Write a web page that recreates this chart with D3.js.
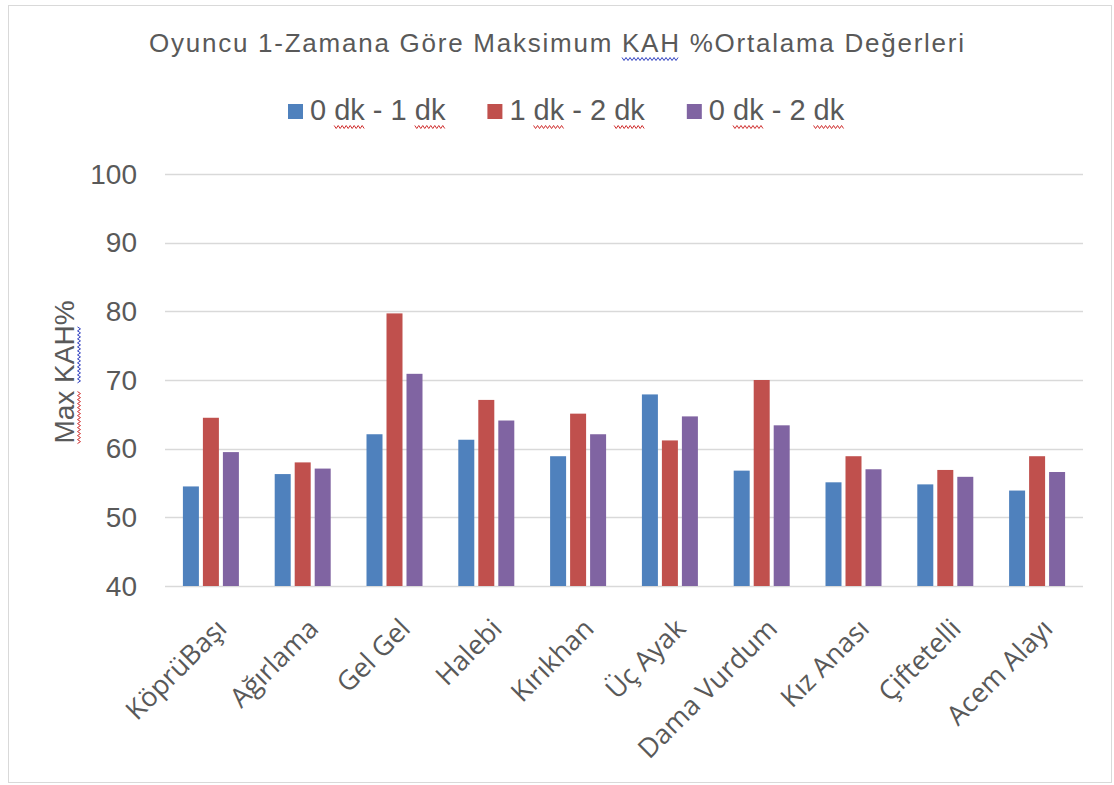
<!DOCTYPE html>
<html>
<head>
<meta charset="utf-8">
<script src="https://cdn.jsdelivr.net/npm/d3@7"></script>
<style>
  html, body { margin: 0; padding: 0; background: #fff; }
  svg { display: block; }
</style>
</head>
<body>
<div id="chart"></div>
<script>
// values
const categories = ['KöprüBaşı', 'Ağırlama', 'Gel Gel', 'Halebi', 'Kırıkhan',
  'Üç Ayak', 'Dama Vurdum', 'Kız Anası', 'Çiftetelli', 'Acem Alayı'];
const seriesNames = ['0 dk - 1 dk', '1 dk - 2 dk', '0 dk - 2 dk'];
const min0to1 = [54.5, 56.3, 62.1, 61.3, 58.9, 67.9, 56.8, 55.1, 54.8, 53.9];
const min1to2 = [64.5, 58.0, 79.7, 67.1, 65.1, 61.2, 70.0, 58.9, 56.9, 58.9];
const min0to2 = [59.5, 57.1, 70.9, 64.1, 62.1, 64.7, 63.4, 57.0, 55.9, 56.6];
const yTicks = [40, 50, 60, 70, 80, 90, 100];
const colors = ['#4f81bd', '#c0504d', '#8064a2'];

const seriesValues = [min0to1, min1to2, min0to2];
const rows = categories.map((c, i) => ({
  cat: c,
  vals: seriesNames.map((s, j) => ({key: s, j, v: seriesValues[j][i]})),
}));

const W = 1114, H = 785;
const plot = {left: 165, right: 1083, top: 174, bottom: 586};
const textCol = '#595959';
const gridCol = '#d9d9d9';

const svg = d3.select('#chart').append('svg')
  .attr('width', W).attr('height', H);

// chart frame
svg.append('rect')
  .attr('x', 8.5).attr('y', 5.5)
  .attr('width', 1103).attr('height', 777)
  .attr('fill', '#fff').attr('stroke', gridCol);

const x0 = d3.scaleBand().domain(categories)
  .range([plot.left, plot.right])
  .paddingInner(0.39).paddingOuter(0.195);
const x1 = d3.scaleBand().domain(seriesNames)
  .range([0, x0.bandwidth()])
  .paddingInner(0.2).paddingOuter(0);
const y = d3.scaleLinear().domain([40, 100]).range([plot.bottom, plot.top]);

// squiggly spell-check underline
const squiggle = (g, xa, xb, yy, col) => {
  const pts = [];
  for (let xx = xa, k = 0; xx <= xb; xx += 2, k++) pts.push([xx, yy + (k % 2 ? 1.5 : -1.5)]);
  g.append('path').attr('d', d3.line()(pts))
    .attr('fill', 'none').attr('stroke', col).attr('stroke-width', 1);
};

// gridlines
svg.append('g').selectAll('line').data(yTicks).join('line')
  .attr('x1', plot.left).attr('x2', plot.right)
  .attr('y1', d => Math.round(y(d)) + 0.5).attr('y2', d => Math.round(y(d)) + 0.5)
  .attr('stroke', gridCol).attr('stroke-width', 1.5);

// y tick labels
svg.append('g').selectAll('text').data(yTicks).join('text')
  .attr('x', 137).attr('y', d => y(d)).attr('dy', '0.35em')
  .attr('text-anchor', 'end')
  .attr('font-family', 'Liberation Sans, Arial, sans-serif')
  .attr('font-size', 28).attr('fill', textCol)
  .text(d => d);

// bars
svg.append('g').selectAll('g').data(rows).join('g')
  .attr('transform', d => `translate(${x0(d.cat)},0)`)
  .selectAll('rect').data(d => d.vals).join('rect')
  .attr('x', d => x1(d.key)).attr('width', x1.bandwidth())
  .attr('y', d => y(d.v)).attr('height', d => y(40) - y(d.v))
  .attr('fill', d => colors[d.j]);

// x axis labels
const xAxis = svg.append('g')
  .attr('transform', `translate(0,${plot.bottom})`)
  .call(d3.axisBottom(x0).tickSize(0));
xAxis.select('.domain').remove();
xAxis.selectAll('text')
  .attr('x', 0).attr('y', 0).attr('dy', '0.75em')
  .attr('text-anchor', 'end')
  .attr('transform', 'translate(3,30) rotate(-45)')
  .attr('font-family', 'Open Sans, sans-serif')
  .attr('font-size', 27).attr('fill', textCol);

// title
const title = svg.append('text')
  .attr('x', 149).attr('y', 52)
  .attr('font-family', 'Liberation Sans, Arial, sans-serif')
  .attr('font-size', 26).attr('fill', textCol)
  .attr('textLength', 815).attr('lengthAdjust', 'spacing')
  .text('Oyuncu 1-Zamana Göre Maksimum KAH %Ortalama Değerleri');
{
  const node = title.node();
  const s = title.text().indexOf('KAH');
  squiggle(svg, node.getStartPositionOfChar(s).x, node.getEndPositionOfChar(s + 2).x, 59, '#3040c0');
}

// legend
const legend = svg.append('g');
let lx = 288;
seriesNames.forEach((name, j) => {
  legend.append('rect')
    .attr('x', lx).attr('y', 104).attr('width', 15).attr('height', 15)
    .attr('fill', colors[j]);
  const t = legend.append('text')
    .attr('x', lx + 22).attr('y', 120)
    .attr('font-family', 'Liberation Sans, Arial, sans-serif')
    .attr('font-size', 29).attr('fill', textCol)
    .text(name);
  const node = t.node();
  let k = name.indexOf('dk');
  while (k >= 0) {
    squiggle(legend, node.getStartPositionOfChar(k).x, node.getEndPositionOfChar(k + 1).x, 127, '#d03030');
    k = name.indexOf('dk', k + 1);
  }
  lx += 22 + node.getComputedTextLength() + 42;
});

// y axis title
const yTitle = svg.append('g').attr('transform', 'translate(74,372) rotate(-90)');
const yt = yTitle.append('text')
  .attr('text-anchor', 'middle')
  .attr('font-family', 'Liberation Sans, Arial, sans-serif')
  .attr('font-size', 28).attr('fill', textCol)
  .text('Max KAH%');
{
  const node = yt.node();
  squiggle(yTitle, node.getStartPositionOfChar(0).x, node.getEndPositionOfChar(2).x, 5, '#d03030');
  squiggle(yTitle, node.getStartPositionOfChar(4).x, node.getEndPositionOfChar(6).x, 5, '#3040c0');
}
</script>
</body>
</html>
